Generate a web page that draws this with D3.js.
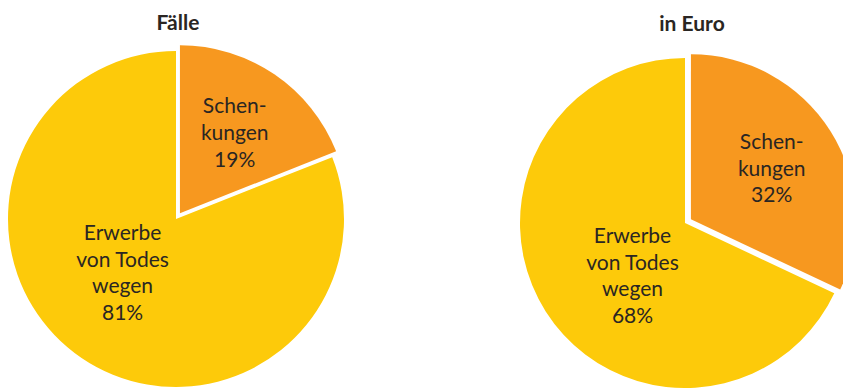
<!DOCTYPE html>
<html>
<head>
<meta charset="utf-8">
<script src="https://cdn.jsdelivr.net/npm/d3@7"></script>
<style>
  html, body { margin: 0; padding: 0; background: #fff; }
  svg { display: block; overflow: hidden; }
  text { font-family: Lato, "Open Sans", sans-serif; fill: #2a2623; }
</style>
</head>
<body>
<svg id="chart" width="843" height="388"></svg>
<script>
// ---- data ----
const titles = ["Fälle", "in Euro"];
const categories = ["Schenkungen", "Erwerbe von Todes wegen"];
const labelLines = [["Schen-", "kungen"], ["Erwerbe", "von Todes", "wegen"]];
const faelleValues = [19, 81];
const euroValues = [32, 68];
const colors = ["#F7981F", "#FDCA0A"];

// ---- layout ----
const W = 843, H = 388;
const panels = [
  { title: titles[0], values: faelleValues, cx: 176, cy: 219, r: 168, titleX: 178, titleY: 30 },
  { title: titles[1], values: euroValues,   cx: 685, cy: 223, r: 165, titleX: 692, titleY: 31 }
];
const explode = [7, 0];           // offset of each slice along its mid-angle
const lineH = 26.8;
const fontSize = 21;

const svg = d3.select("#chart");
const pie = d3.pie().sort(null).value(d => d);

panels.forEach(p => {
  const g = svg.append("g").attr("transform", `translate(${p.cx},${p.cy})`);
  const arc = d3.arc().innerRadius(0).outerRadius(p.r);
  const arcs = pie(p.values);

  arcs.forEach((a, i) => {
    const mid = (a.startAngle + a.endAngle) / 2;
    const dx = Math.sin(mid) * explode[i], dy = -Math.cos(mid) * explode[i];
    g.append("path")
      .attr("d", arc(a))
      .attr("fill", colors[i])
      .attr("transform", `translate(${dx},${dy})`);

    // label anchor
    let lx, ly;
    if (i === 0) {
      const f = 0.58 * p.r;
      lx = Math.sin(mid) * f + dx; ly = -Math.cos(mid) * f + dy;
    } else {
      const ang = Math.PI * 1.25, f = 0.45 * p.r;
      lx = Math.sin(ang) * f; ly = -Math.cos(ang) * f;
    }
    const lines = labelLines[i].concat([d3.format("d")(p.values[i]) + "%"]);
    const n = lines.length;
    const capH = fontSize * 0.72;
    const firstBase = ly - ((n - 1) * lineH - capH) / 2;
    const t = g.append("text")
      .attr("text-anchor", "middle")
      .attr("font-size", fontSize)
      .attr("x", lx).attr("y", firstBase);
    lines.forEach((s, k) => {
      t.append("tspan").attr("x", lx).attr("dy", k === 0 ? 0 : lineH).text(s);
    });
  });

  svg.append("text")
    .attr("x", p.titleX).attr("y", p.titleY)
    .attr("text-anchor", "middle")
    .attr("font-size", 21)
    .attr("font-weight", "bold")
    .text(p.title);
});
</script>
</body>
</html>
